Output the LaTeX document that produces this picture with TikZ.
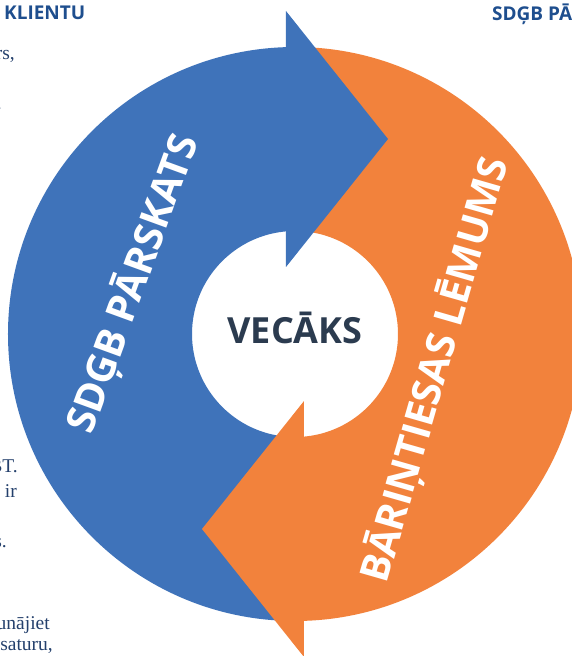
\documentclass[tikz,border=0pt]{standalone}
\usepackage{fontspec}
\setmainfont{Liberation Serif}
\newfontfamily\headfont{Open Sans}
\definecolor{cycblue}{HTML}{3F73BA}
\definecolor{cycorange}{HTML}{F2823C}
\definecolor{parentink}{HTML}{2B3B4F}
\definecolor{headink}{HTML}{1E4E8E}
\definecolor{bodyink}{HTML}{24406C}
\tikzset{
  bandlabel/.style={text=white, font=\headfont\bfseries\fontsize{40}{40}\selectfont, inner sep=0pt},
  centrelabel/.style={text=parentink, font=\headfont\bfseries\fontsize{36}{36}\selectfont, inner sep=0pt},
  heading/.style={text=headink, font=\headfont\bfseries\fontsize{19}{19}\selectfont, inner sep=0pt},
  bodytext/.style={text=bodyink, font=\fontsize{19.5}{19.5}\selectfont, inner sep=0pt, anchor=base east},
}
\begin{document}
\begin{tikzpicture}[x=1pt,y=1pt]
\useasboundingbox (-295,-322) rectangle (277,334);
\clip (-295,-322) rectangle (277,334);

% the two halves of the ring
\fill[cycblue] (90:287pt) arc[start angle=90, end angle=270, radius=287pt]
  -- (270:103pt) arc[start angle=270, end angle=90, radius=103pt] -- cycle;
\fill[cycorange] (-90:287pt) arc[start angle=-90, end angle=90, radius=287pt]
  -- (90:103pt) arc[start angle=90, end angle=-90, radius=103pt] -- cycle;

% arrow heads, each lying over the tail of the other half
\fill[cycblue] (-9,323) -- (93,195) -- (-9,67) -- cycle;
\fill[cycorange] (9,-323) -- (-93,-195) -- (9,-67) -- cycle;

% labels on the ring and in the centre
\node[bandlabel, rotate=70] (report) at (-162,50) {SDĢB PĀRSKATS};
\node[bandlabel, rotate=74] (ruling) at (140,-36) {BĀRIŅTIESAS LĒMUMS};
\node[centrelabel, anchor=base] (parent) at (0,-9) {VECĀKS};

% surrounding page text
\node[heading, anchor=base west] (headL) at (-291,314) {KLIENTU};
\node[heading, anchor=base west] (headR) at (197,313) {SDĢB PĀ};
\node[bodytext] (t1) at (-280,274) {rs,};
\node[bodytext] (t2) at (-293,224) {.};
\node[bodytext] (t3) at (-277,-138) {BT.};
\node[bodytext] (t4) at (-278,-163) {ir};
\node[bodytext] (t5) at (-288,-213) {s.};
\node[bodytext] (t6) at (-245,-295) {unājiet};
\node[bodytext] (t7) at (-242,-316) {saturu,};
\end{tikzpicture}
\end{document}
